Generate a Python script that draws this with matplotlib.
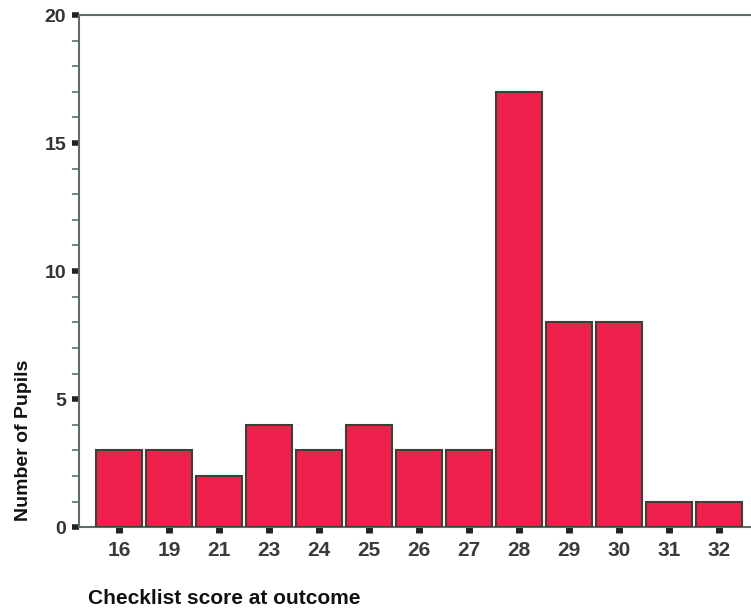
import matplotlib
matplotlib.use("Agg")
import matplotlib.pyplot as plt
from matplotlib.ticker import MultipleLocator

scores = ["16", "19", "21", "23", "24", "25", "26", "27", "28", "29", "30", "31", "32"]
pupils = [3, 3, 2, 4, 3, 4, 3, 3, 17, 8, 8, 1, 1]

plt.rcParams['font.family'] = ['Liberation Sans', 'DejaVu Sans']
narrow = ['Liberation Sans Narrow', 'Liberation Sans', 'DejaVu Sans']

fig = plt.figure(figsize=(7.51, 6.13), dpi=100)
ax = fig.add_axes([0.105, 0.14, 0.895, 0.8355])

x = range(len(scores))
ax.bar(x, pupils, width=0.93, color="#f0204c", edgecolor="#3a4238", linewidth=1.5, zorder=3)

ax.set_xlim(-0.8, 12.64)
ax.set_ylim(0, 20)
ax.set_xticks(list(x))
ax.set_xticklabels(scores)
ax.yaxis.set_major_locator(MultipleLocator(5))
ax.yaxis.set_minor_locator(MultipleLocator(1))

spine_col = "#5f6e64"
for s in ["left", "bottom", "top"]:
    ax.spines[s].set_color(spine_col)
    ax.spines[s].set_linewidth(1.5)
ax.spines["right"].set_visible(False)

ax.tick_params(axis="y", which="major", length=5, width=4, color="#222222", pad=4)
ax.tick_params(axis="y", which="minor", length=5, width=1.2, color=spine_col)
ax.tick_params(axis="x", which="major", length=4, width=5, color="#222222", pad=6)
for lab in ax.get_xticklabels():
    lab.set_fontfamily(narrow)
    lab.set_fontweight("bold")
    lab.set_fontsize(15)
    lab.set_color("#3a3a3a")
for lab in ax.get_yticklabels():
    lab.set_fontfamily(narrow)
    lab.set_fontweight("bold")
    lab.set_fontsize(14)
    lab.set_color("#333333")

fig.text(0.031, 0.281, "Number of Pupils", rotation=90, ha="center", va="center",
         fontsize=14, fontweight="bold", color="#111111")
fig.text(0.117, 0.023, "Checklist score at outcome", ha="left", va="center",
         fontsize=15, fontweight="bold", color="#111111")

fig.savefig("out.png", dpi=100)
